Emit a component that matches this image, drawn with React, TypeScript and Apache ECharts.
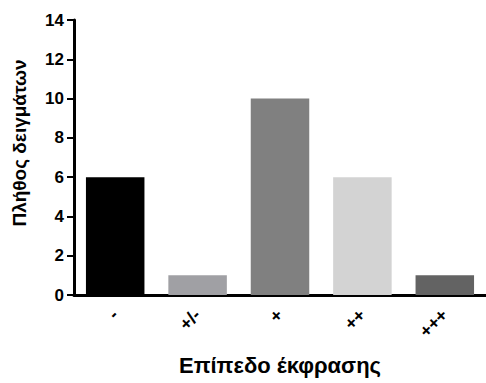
import React, { useEffect, useRef } from "react";
import * as echarts from "echarts";

const categories = ["-", "+/-", "+", "++", "+++"];
const counts = [6, 1, 10, 6, 1];
const barColors = ["#000000", "#a0a0a4", "#808080", "#d3d3d3", "#636363"];
const yTicks = [0, 14, 2];
const yTitle = "Πλήθος δειγμάτων";
const xTitle = "Επίπεδο έκφρασης";

const FONT = "Liberation Sans, Arial, sans-serif";

export default function App() {
  const ref = useRef<HTMLDivElement>(null);
  useEffect(() => {
    document.body.style.margin = "0";
    if (!ref.current) return;
    const chart = echarts.init(ref.current, null, { renderer: "svg" });
    chart.setOption({
      animation: false,
      backgroundColor: "#ffffff",
      grid: {
        left: 74,
        right: 0,
        top: 20,
        bottom: 88,
        containLabel: false,
        outerBoundsMode: "none",
      },
      xAxis: {
        type: "category",
        data: categories,
        name: xTitle,
        nameLocation: "middle",
        nameGap: 59,
        nameTextStyle: { fontFamily: FONT, fontWeight: "bold", fontSize: 22, color: "#000" },
        axisLine: { lineStyle: { color: "#000", width: 3 } },
        axisTick: { alignWithLabel: true, length: 7, lineStyle: { color: "#000", width: 2 } },
        axisLabel: {
          rotate: 45,
          margin: 17,
          fontFamily: FONT,
          fontWeight: "bold",
          fontSize: 18,
          color: "#000",
        },
      },
      yAxis: {
        type: "value",
        min: yTicks[0],
        max: yTicks[1],
        interval: yTicks[2],
        axisLine: { show: true, lineStyle: { color: "#000", width: 3 } },
        axisTick: { show: true, length: 7, lineStyle: { color: "#000", width: 2 } },
        splitLine: { show: false },
        axisLabel: {
          margin: 10,
          fontFamily: FONT,
          fontWeight: "bold",
          fontSize: 17,
          color: "#000",
        },
      },
      graphic: [
        {
          type: "text",
          x: 19,
          y: 143,
          rotation: Math.PI / 2,
          style: {
            text: yTitle,
            fontFamily: FONT,
            fontWeight: "bold",
            fontSize: 19,
            fill: "#000",
            textAlign: "center",
            textVerticalAlign: "middle",
          },
        },
      ],
      series: [
        {
          type: "bar",
          data: counts.map((v, i) => ({ value: v, itemStyle: { color: barColors[i] } })),
          barCategoryGap: "29%",
        },
      ],
    });
    return () => chart.dispose();
  }, []);
  return <div ref={ref} style={{ width: 486, height: 383 }} />;
}
